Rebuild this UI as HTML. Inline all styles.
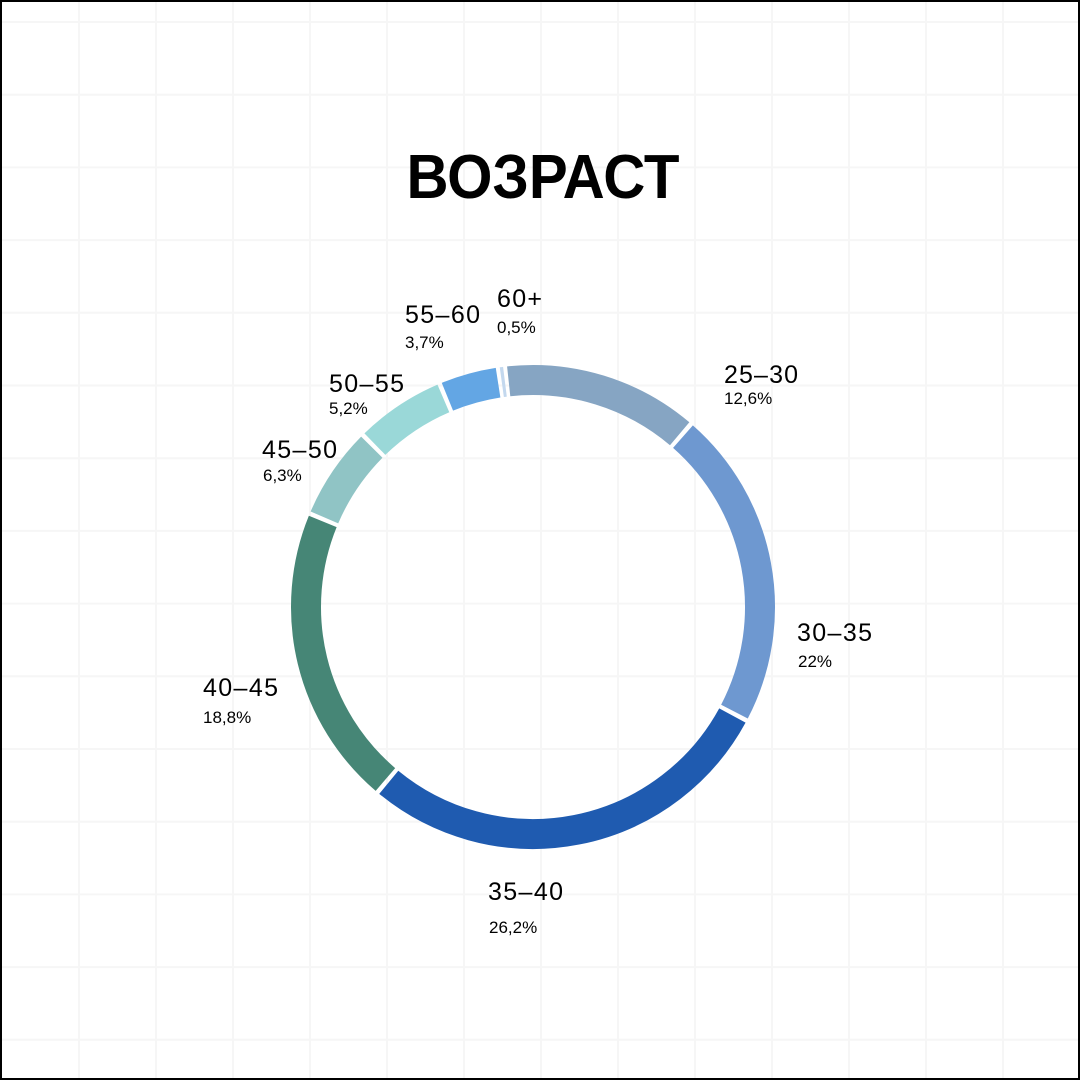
<!DOCTYPE html>
<html><head><meta charset="utf-8"><style>
html,body{margin:0;padding:0;background:#fff}
svg{display:block}
text{font-family:"Liberation Sans",sans-serif;fill:#000}
</style></head><body>
<svg id="s" width="1080" height="1080" viewBox="0 0 1080 1080">
<rect x="0" y="0" width="1080" height="1080" fill="#fff"/>
<g id="grid" stroke="#f6f6f6" stroke-width="2"></g>
<rect x="1" y="1" width="1078" height="1078" fill="none" stroke="#000" stroke-width="2"/>
<text x="543" y="198" font-size="62" font-weight="bold" text-anchor="middle" textLength="273" lengthAdjust="spacingAndGlyphs">ВОЗРАСТ</text>
<g id="ring"></g>
<g font-size="25">
<text x="724" y="383" textLength="74">25–30</text>
<text x="797" y="641" textLength="75">30–35</text>
<text x="488" y="900" textLength="75">35–40</text>
<text x="203" y="696" textLength="75">40–45</text>
<text x="262" y="458" textLength="75">45–50</text>
<text x="329" y="392" textLength="75">50–55</text>
<text x="405" y="323" textLength="75">55–60</text>
<text x="497" y="307" textLength="45">60+</text>
</g>
<g font-size="17">
<text x="724" y="404">12,6%</text>
<text x="798" y="667">22%</text>
<text x="489" y="933">26,2%</text>
<text x="203" y="723">18,8%</text>
<text x="263" y="481">6,3%</text>
<text x="329" y="414">5,2%</text>
<text x="405" y="348">3,7%</text>
<text x="497" y="333">0,5%</text>
</g>
</svg>
<script>
var ns="http://www.w3.org/2000/svg",g=document.getElementById("grid");
for(var x=79;x<1080;x+=77){var l=document.createElementNS(ns,"line");l.setAttribute("x1",x);l.setAttribute("x2",x);l.setAttribute("y1",0);l.setAttribute("y2",1080);g.appendChild(l);}
for(var y=22;y<1080;y+=72.7){var l=document.createElementNS(ns,"line");l.setAttribute("y1",y);l.setAttribute("y2",y);l.setAttribute("x1",0);l.setAttribute("x2",1080);g.appendChild(l);}
var b=[-6.7,40.8,118,220,292.7,315.3,337.3,351.7,353.3],c=["#86a5c3","#6e98d0","#1f5bb0","#468676","#90c4c5","#9ad8d8","#63a6e4","#c3d8ee"];
var cx=533,cy=607,r=227,ring=document.getElementById("ring");
function pt(deg){var t=deg*Math.PI/180;return [cx+r*Math.sin(t),cy-r*Math.cos(t)];}
for(var i=0;i<c.length;i++){var a0=b[i]+0.55,a1=b[i+1]-0.55;if(i==7){a0=b[i]+0.4;a1=b[i+1]-0.4;}var p0=pt(a0),p1=pt(a1);
var p=document.createElementNS(ns,"path");p.setAttribute("d","M"+p0[0]+","+p0[1]+" A"+r+","+r+" 0 "+(a1-a0>180?1:0)+" 1 "+p1[0]+","+p1[1]);
p.setAttribute("stroke",c[i]);p.setAttribute("stroke-width","30");p.setAttribute("fill","none");ring.appendChild(p);}
</script>
</body></html>
